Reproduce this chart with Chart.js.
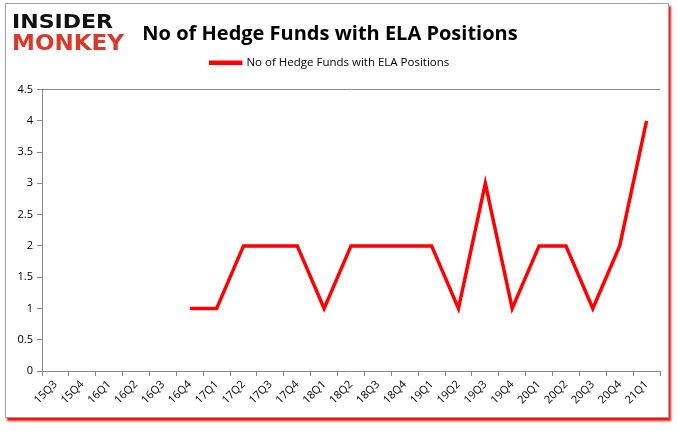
<!DOCTYPE html>
<html>
<head>
<meta charset="utf-8">
<script src="https://cdn.jsdelivr.net/npm/chart.js@4"></script>
<style>
  html, body { margin: 0; padding: 0; background: #fff; }
  #frame { position: absolute; left: 5px; top: 3px; width: 662px; height: 413px;
    border: 1px solid #a0a0a0; box-shadow: 2px 3px 2px rgba(255,0,0,0.95); background: #fff; }
  #wrap { position: absolute; left: 0; top: 0; width: 678px; height: 431px; }
  .logo { position: absolute; left: 12px; font-family: "DejaVu Sans", sans-serif; font-weight: bold;
    transform-origin: 0 0; white-space: nowrap; line-height: 1; }
  #l1 { top: 11px; color: #111; font-size: 24px; }
  #l2 { top: 32px; color: #d63a2b; font-size: 24px; }
</style>
</head>
<body>
<div id="frame"></div>
<div id="wrap"><canvas id="c" width="678" height="431"></canvas></div>
<div class="logo" id="l1">INSIDER</div>
<div class="logo" id="l2">MONKEY</div>
<script>
// datos de la gráfica
const quarters = ['15Q3','15Q4','16Q1','16Q2','16Q3','16Q4','17Q1','17Q2','17Q3','17Q4','18Q1','18Q2',
  '18Q3','18Q4','19Q1','19Q2','19Q3','19Q4','20Q1','20Q2','20Q3','20Q4','21Q1'];
const fundCounts = [null, null, null, null, null, 1, 1, 2, 2, 2, 1, 2, 2, 2, 2, 1, 3, 1, 2, 2, 1, 2, 4];
const seriesName = 'No of Hedge Funds with ELA Positions';
const chartTitle = 'No of Hedge Funds with ELA Positions';
const yMax = 4.5;
const yStep = 0.5;

// ajustar el logo al ancho
function fitLogo(id, w, h) {
  const el = document.getElementById(id);
  const r = el.getBoundingClientRect();
  el.style.transform = `scale(${w / r.width}, ${h / r.height})`;
}
fitLogo('l1', 101, 20);
fitLogo('l2', 112, 21);

// espacio extra debajo de la leyenda
const legendGap = {
  id: 'legendGap',
  afterInit(chart) {
    const lg = chart.legend;
    const origFit = lg.fit;
    lg.fit = function () { origFit.call(this); this.height += 11; };
  }
};

const ctx = document.getElementById('c').getContext('2d');
new Chart(ctx, {
  type: 'line',
  data: {
    labels: quarters,
    datasets: [{
      label: seriesName,
      data: fundCounts,
      borderColor: '#ff0000',
      backgroundColor: '#ff0000',
      borderWidth: 3.5,
      pointRadius: 0,
      tension: 0
    }]
  },
  plugins: [legendGap],
  options: {
    responsive: false,
    animation: false,
    layout: { padding: { left: 0, right: 18, top: 0, bottom: 0 } },
    plugins: {
      title: {
        display: true,
        text: chartTitle,
        color: '#000',
        font: { family: '"Open Sans", sans-serif', size: 20, weight: 'bold' },
        padding: { top: 22, bottom: 3 }
      },
      legend: {
        labels: {
          color: '#000',
          font: { family: '"Open Sans", sans-serif', size: 11.5 },
          boxWidth: 30, boxHeight: 1, padding: 8
        }
      },
      tooltip: { enabled: false }
    },
    scales: {
      x: {
        offset: true,
        grid: { offset: true, drawOnChartArea: false, color: '#888', tickLength: 5 },
        border: { color: '#888' },
        ticks: { color: '#000', font: { family: '"Open Sans", sans-serif', size: 11 },
          minRotation: 45, maxRotation: 45, autoSkip: false, padding: 2 },
        afterFit: s => { s.height = 60; }
      },
      y: {
        min: 0, max: yMax,
        grid: { color: c => c.tick && c.tick.value === yMax ? '#888' : 'rgba(0,0,0,0)', tickColor: '#888', tickLength: 5 },
        border: { color: '#888' },
        ticks: { stepSize: yStep, color: '#000', font: { family: '"Open Sans", sans-serif', size: 11 }, padding: 4,
          callback: v => String(v) },
        afterFit: s => { s.width = 42; }
      }
    }
  }
});
</script>
</body>
</html>
